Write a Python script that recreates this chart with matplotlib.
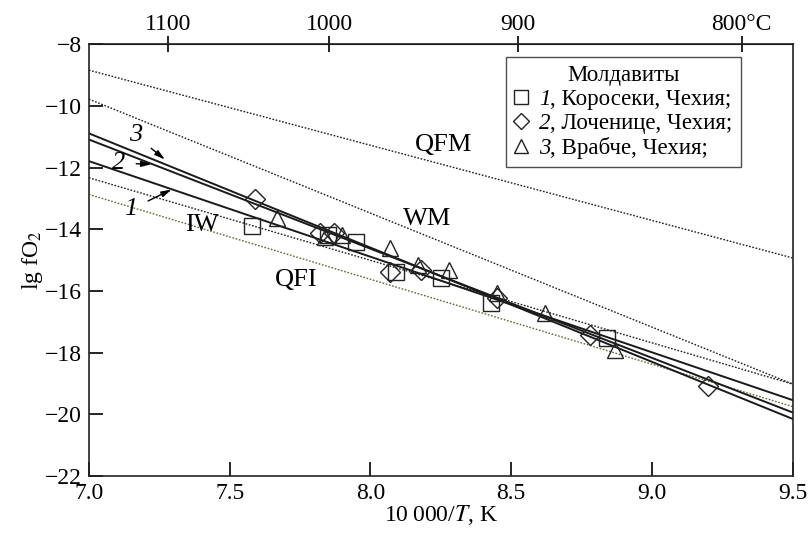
import numpy as np
import matplotlib
matplotlib.use("Agg")
import matplotlib.pyplot as plt
from matplotlib.lines import Line2D
from matplotlib.text import Text
from matplotlib.legend_handler import HandlerBase

plt.rcParams['font.family'] = ['Liberation Serif', 'DejaVu Serif']
plt.rcParams['mathtext.fontset'] = 'stix'

# buffer lines, ends at 10000/T = 7.0 and 9.5
x_ends = [7.0, 9.5]
qfm = [-8.84, -14.93]
wm = [-9.78, -19.02]
iw = [-12.33, -19.02]
qfi = [-12.87, -19.75]

# regression lines for the three localities
line1 = [-11.79, -19.54]
line2 = [-11.09, -19.94]
line3 = [-10.89, -20.15]

# 1, Koroseky (squares)
sq_x = [7.58, 7.85, 7.95, 8.09, 8.25, 8.43, 8.84]
sq_y = [-13.90, -14.19, -14.42, -15.38, -15.59, -16.40, -17.54]
# 2, Lochenice (diamonds)
dm_x = [7.59, 7.82, 7.87, 8.07, 8.18, 8.45, 8.78, 9.20]
dm_y = [-13.02, -14.12, -14.12, -15.38, -15.32, -16.24, -17.43, -19.08]
# 3, Vrabce (triangles)
tr_x = [7.67, 7.84, 7.90, 8.07, 8.17, 8.28, 8.45, 8.62, 8.87]
tr_y = [-13.62, -14.24, -14.19, -14.62, -15.16, -15.32, -16.08, -16.73, -17.92]

temps_c = [1100, 1000, 900, 800]
temp_labels = ['1100', '1000', '900', '800°C']

legend_digits = ['1', '2', '3']
legend_names = [', Коросеки, Чехия;', ', Лоченице, Чехия;', ', Врабче, Чехия;']


class MarkerDigit(HandlerBase):
    # legend handle: open marker followed by an italic number
    def __init__(self, marker, ms, digit):
        super().__init__()
        self.marker = marker
        self.ms = ms
        self.digit = digit

    def create_artists(self, legend, orig_handle, xdescent, ydescent,
                       width, height, fontsize, trans):
        y = height / 2 - ydescent
        m = Line2D([-xdescent + 0.2 * width], [y], marker=self.marker,
                   ls='none', mfc='none', mec='#222222', mew=1.0, ms=self.ms,
                   transform=trans)
        t = Text(-xdescent + width, -ydescent, self.digit, fontsize=fontsize,
                 fontstyle='italic', ha='right', va='baseline',
                 transform=trans)
        return [m, t]


fig = plt.figure(figsize=(8.08, 5.33), dpi=100)
ax = fig.add_axes([0.110, 0.107, 0.871, 0.810])

dot = (0, (1.2, 1.2))
ax.plot(x_ends, qfm, color='#1e1e1e', lw=1.0, ls=dot)
ax.plot(x_ends, wm, color='#1e1e1e', lw=1.0, ls=dot)
ax.plot(x_ends, iw, color='#1e1e1e', lw=1.0, ls=dot)
ax.plot(x_ends, qfi, color='#66663a', lw=1.0, ls=dot)

for ln in (line1, line2, line3):
    ax.plot(x_ends, ln, color='#1a1a1a', lw=1.4)

mk = dict(ls='none', mfc='none', mec='#222222', mew=1.0, ms=11)
ax.plot(sq_x, sq_y, marker='s', **mk)
ax.plot(dm_x, dm_y, marker='D', ms=10, ls='none', mfc='none', mec='#222222', mew=1.0)
ax.plot(tr_x, tr_y, marker='^', **mk)

fs = 17
lfs = 19
ax.text(8.26, -11.27, 'QFM', fontsize=lfs, ha='center', va='center')
ax.text(8.20, -13.66, 'WM', fontsize=lfs, ha='center', va='center')
ax.text(7.40, -13.87, 'IW', fontsize=lfs, ha='center', va='center')
ax.text(7.735, -15.65, 'QFI', fontsize=lfs, ha='center', va='center')

arrow = dict(arrowstyle='-|>,head_length=0.32,head_width=0.09', color='black',
             lw=1.0, shrinkA=6, shrinkB=0)
ax.annotate('3', xy=(7.27, -11.74), xytext=(7.165, -10.95), fontsize=lfs,
            style='italic', ha='center', va='center', arrowprops=arrow)
ax.annotate('2', xy=(7.223, -11.89), xytext=(7.105, -11.86), fontsize=lfs,
            style='italic', ha='center', va='center', arrowprops=arrow)
ax.annotate('1', xy=(7.294, -12.71), xytext=(7.15, -13.35), fontsize=lfs,
            style='italic', ha='center', va='center', arrowprops=arrow)

ax.set_xlim(7.0, 9.5)
ax.set_ylim(-22, -8)
ax.set_xticks([7.0, 7.5, 8.0, 8.5, 9.0, 9.5])
ax.set_xticklabels(['7.0', '7.5', '8.0', '8.5', '9.0', '9.5'])
ax.set_yticks(range(-22, -7, 2))
ax.set_yticklabels(['−%d' % v for v in range(22, 7, -2)])
ax.tick_params(axis='both', direction='in', length=10, width=1.2, labelsize=fs,
               pad=5)
ax.tick_params(axis='y', right=False)
for s in ax.spines.values():
    s.set_linewidth(1.2)
    s.set_color('#222222')

ax.set_xlabel('10\u2009000/$\\mathit{T}$, K', fontsize=fs, labelpad=-1)
ax.set_ylabel('lg fO$_2$', fontsize=fs, labelpad=0)

top = ax.secondary_xaxis('top', functions=(lambda x: 10000.0 / np.maximum(x, 1e-6) - 273.15,
                                           lambda t: 10000.0 / (np.asarray(t) + 273.15)))
top.set_xticks(temps_c)
top.set_xticklabels(temp_labels)
top.tick_params(direction='inout', length=12, width=1.2, labelsize=fs, pad=1)

handles = [Line2D([], []), Line2D([], []), Line2D([], [])]
hmap = {
    handles[0]: MarkerDigit('s', 9.5, legend_digits[0]),
    handles[1]: MarkerDigit('D', 8.5, legend_digits[1]),
    handles[2]: MarkerDigit('^', 9.5, legend_digits[2]),
}
leg = ax.legend(handles, legend_names, handler_map=hmap, title='Молдавиты',
                loc='upper right', bbox_to_anchor=(0.926, 0.970),
                fontsize=16.5, title_fontsize=16.5,
                frameon=True, fancybox=False, edgecolor='#222222',
                handlelength=1.6, handletextpad=0.0, borderpad=0.35,
                labelspacing=0.12, borderaxespad=0)
leg.get_frame().set_linewidth(1.0)

fig.savefig('out.png', dpi=100)
